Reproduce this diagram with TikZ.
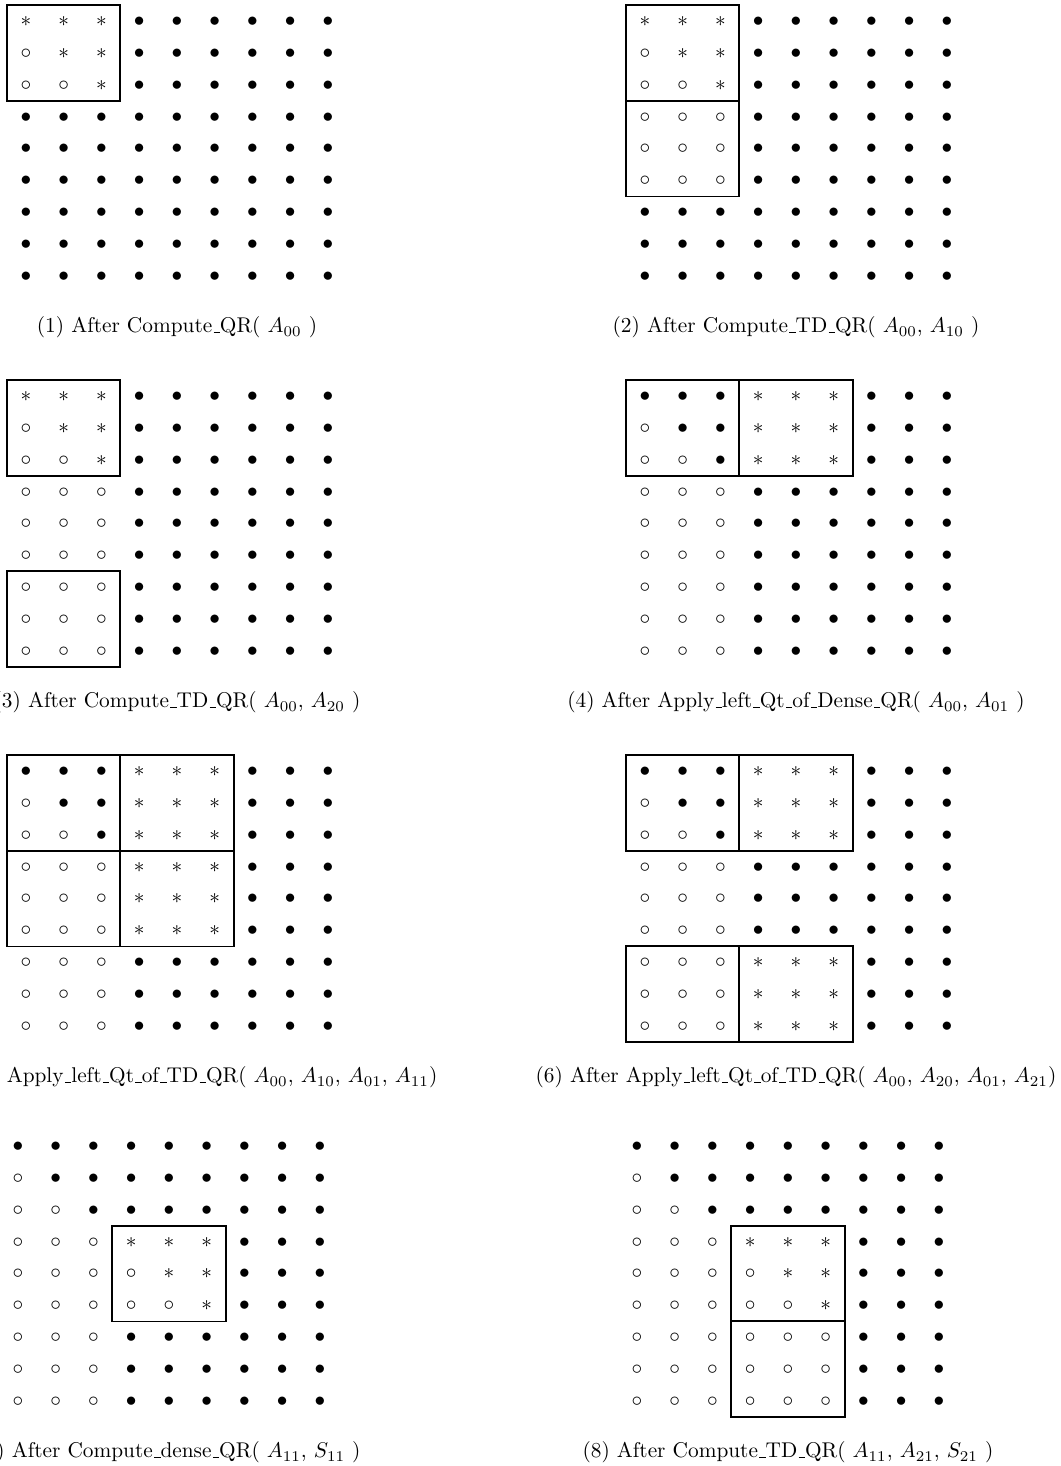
\documentclass[tikz,border=0pt]{standalone}
\usetikzlibrary{positioning,calc}
\tikzset{
  entry/.style={inner sep=0pt,text height=5pt,text depth=0pt},
  blockframe/.style={line width=0.9pt},
  qrcaption/.style={inner sep=0pt}
}
\newcommand{\qrb}{$\bullet$}
\newcommand{\qro}{$\circ$}
\newcommand{\qrs}{$\ast$}
% underscore as a rule on the baseline
\newcommand{\qrus}{\leavevmode\kern.06em\vbox{\hrule height 0.6pt width .3em}}
% one 9x9 panel: name, origin, rows of entries (b, o, s)
\newcommand{\qrgrid}[3]{%
  \begin{scope}[shift={(#2)}]
    \foreach \row [count=\r from 0] in {#3}{
      \foreach \e [count=\c from 0] in \row
        \node[entry] (#1-\r-\c) at (\c*37.75,\r*31.9) {\csname qr\e\endcsname};
    }
  \end{scope}}
% frame round a block of cells: panel, first cell, last cell
\newcommand{\qrblock}[3]{%
  \draw[blockframe] ($(#1-#2)+(-18.9,-16)$) rectangle ($(#1-#3)+(18.9,16)$);}

\begin{document}
\begin{tikzpicture}[x=0.469pt,y=-0.469pt]
\path[use as bounding box] (0,0) rectangle (1060,1466);
\clip (0,0) rectangle (1060,1466);

% (1)
\qrgrid{p1}{26,21}{%
  {s,s,s,b,b,b,b,b,b},{o,s,s,b,b,b,b,b,b},{o,o,s,b,b,b,b,b,b},
  {b,b,b,b,b,b,b,b,b},{b,b,b,b,b,b,b,b,b},{b,b,b,b,b,b,b,b,b},
  {b,b,b,b,b,b,b,b,b},{b,b,b,b,b,b,b,b,b},{b,b,b,b,b,b,b,b,b}}
\qrblock{p1}{0-0}{2-2}
\node[qrcaption,below=16.2pt of p1-8-4] (cap1) {(1) After Compute\qrus QR( $A_{00}$ )};

% (2)
\qrgrid{p2}{645,21}{%
  {s,s,s,b,b,b,b,b,b},{o,s,s,b,b,b,b,b,b},{o,o,s,b,b,b,b,b,b},
  {o,o,o,b,b,b,b,b,b},{o,o,o,b,b,b,b,b,b},{o,o,o,b,b,b,b,b,b},
  {b,b,b,b,b,b,b,b,b},{b,b,b,b,b,b,b,b,b},{b,b,b,b,b,b,b,b,b}}
\qrblock{p2}{0-0}{2-2}
\qrblock{p2}{3-0}{5-2}
\node[qrcaption,below=16.2pt of p2-8-4] (cap2) {(2) After Compute\qrus TD\qrus QR( $A_{00}$, $A_{10}$ )};

% (3)
\qrgrid{p3}{26,396}{%
  {s,s,s,b,b,b,b,b,b},{o,s,s,b,b,b,b,b,b},{o,o,s,b,b,b,b,b,b},
  {o,o,o,b,b,b,b,b,b},{o,o,o,b,b,b,b,b,b},{o,o,o,b,b,b,b,b,b},
  {o,o,o,b,b,b,b,b,b},{o,o,o,b,b,b,b,b,b},{o,o,o,b,b,b,b,b,b}}
\qrblock{p3}{0-0}{2-2}
\qrblock{p3}{6-0}{8-2}
\node[qrcaption,below=16.2pt of p3-8-4] (cap3) {(3) After Compute\qrus TD\qrus QR( $A_{00}$, $A_{20}$ )};

% (4)
\qrgrid{p4}{645,396}{%
  {b,b,b,s,s,s,b,b,b},{o,b,b,s,s,s,b,b,b},{o,o,b,s,s,s,b,b,b},
  {o,o,o,b,b,b,b,b,b},{o,o,o,b,b,b,b,b,b},{o,o,o,b,b,b,b,b,b},
  {o,o,o,b,b,b,b,b,b},{o,o,o,b,b,b,b,b,b},{o,o,o,b,b,b,b,b,b}}
\qrblock{p4}{0-0}{2-2}
\qrblock{p4}{0-3}{2-5}
\node[qrcaption,below=16.2pt of p4-8-4] (cap4) {(4) After Apply\qrus left\qrus Qt\qrus of\qrus Dense\qrus QR( $A_{00}$, $A_{01}$ )};

% (5)
\qrgrid{p5}{26,771}{%
  {b,b,b,s,s,s,b,b,b},{o,b,b,s,s,s,b,b,b},{o,o,b,s,s,s,b,b,b},
  {o,o,o,s,s,s,b,b,b},{o,o,o,s,s,s,b,b,b},{o,o,o,s,s,s,b,b,b},
  {o,o,o,b,b,b,b,b,b},{o,o,o,b,b,b,b,b,b},{o,o,o,b,b,b,b,b,b}}
\qrblock{p5}{0-0}{2-2}
\qrblock{p5}{0-3}{2-5}
\qrblock{p5}{3-0}{5-2}
\qrblock{p5}{3-3}{5-5}
\node[qrcaption,below=16.2pt of p5-8-4] (cap5) {(5) After Apply\qrus left\qrus Qt\qrus of\qrus TD\qrus QR( $A_{00}$, $A_{10}$, $A_{01}$, $A_{11}$)};

% (6)
\qrgrid{p6}{645,771}{%
  {b,b,b,s,s,s,b,b,b},{o,b,b,s,s,s,b,b,b},{o,o,b,s,s,s,b,b,b},
  {o,o,o,b,b,b,b,b,b},{o,o,o,b,b,b,b,b,b},{o,o,o,b,b,b,b,b,b},
  {o,o,o,s,s,s,b,b,b},{o,o,o,s,s,s,b,b,b},{o,o,o,s,s,s,b,b,b}}
\qrblock{p6}{0-0}{2-2}
\qrblock{p6}{0-3}{2-5}
\qrblock{p6}{6-0}{8-2}
\qrblock{p6}{6-3}{8-5}
\node[qrcaption,below=16.2pt of p6-8-4] (cap6) {(6) After Apply\qrus left\qrus Qt\qrus of\qrus TD\qrus QR( $A_{00}$, $A_{20}$, $A_{01}$, $A_{21}$)};

% (7)
\qrgrid{p7}{18,1146}{%
  {b,b,b,b,b,b,b,b,b},{o,b,b,b,b,b,b,b,b},{o,o,b,b,b,b,b,b,b},
  {o,o,o,s,s,s,b,b,b},{o,o,o,o,s,s,b,b,b},{o,o,o,o,o,s,b,b,b},
  {o,o,o,b,b,b,b,b,b},{o,o,o,b,b,b,b,b,b},{o,o,o,b,b,b,b,b,b}}
\qrblock{p7}{3-3}{5-5}
\node[qrcaption,below=16.2pt of p7-8-4] (cap7) {(7) After Compute\qrus dense\qrus QR( $A_{11}$, $S_{11}$ )};

% (8)
\qrgrid{p8}{637,1146}{%
  {b,b,b,b,b,b,b,b,b},{o,b,b,b,b,b,b,b,b},{o,o,b,b,b,b,b,b,b},
  {o,o,o,s,s,s,b,b,b},{o,o,o,o,s,s,b,b,b},{o,o,o,o,o,s,b,b,b},
  {o,o,o,o,o,o,b,b,b},{o,o,o,o,o,o,b,b,b},{o,o,o,o,o,o,b,b,b}}
\qrblock{p8}{3-3}{5-5}
\qrblock{p8}{6-3}{8-5}
\node[qrcaption,below=16.2pt of p8-8-4] (cap8) {(8) After Compute\qrus TD\qrus QR( $A_{11}$, $A_{21}$, $S_{21}$ )};
\end{tikzpicture}
\end{document}
